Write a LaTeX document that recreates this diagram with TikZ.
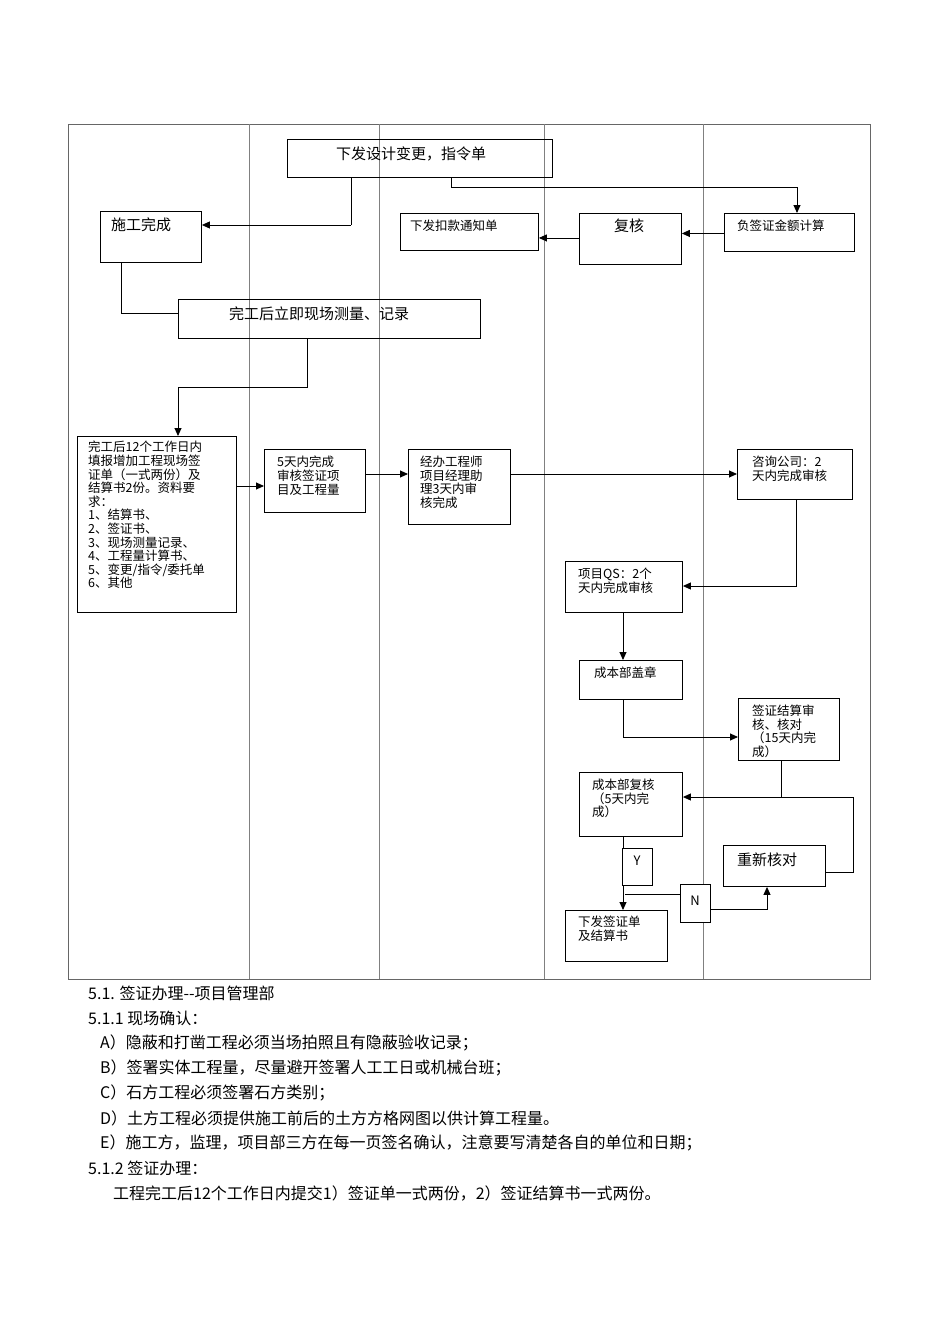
\documentclass[tikz,border=0pt]{standalone}
\usepackage{fontspec}
\setmainfont{Noto Sans CJK SC}
\usetikzlibrary{arrows.meta}
\tikzset{
 box/.style={draw,line width=0.9pt,anchor=north west,inner sep=0pt},
 lbl/.style={anchor=north west,align=left,inner sep=0pt,font=\fontsize{12.5}{13.6}\selectfont},
 big/.style={anchor=north west,align=left,inner sep=0pt,font=\fontsize{15}{17}\selectfont},
 txt/.style={anchor=west,inner sep=0pt,font=\fontsize{16}{18}\selectfont},
 arr/.style={-{Triangle[length=8pt,width=7pt]},line width=0.9pt},
 ln/.style={line width=0.9pt},
 lane/.style={draw=gray,line width=0.8pt}
}
\newcommand\bx[5]{\node[box,minimum width=#4pt-#2pt,minimum height=#5pt-#3pt] (#1) at (#2,#3) {};}
\begin{document}
\begin{tikzpicture}[x=1pt,y=-1pt]
\useasboundingbox (0,0) rectangle (950,1344);
\draw[line width=0.8pt,draw=gray!80!black] (68,124) rectangle (870,979);
\foreach \x in {249,379,544,703} \draw[lane] (\x,124) -- (\x,979);
% boxes
\bx{top}{287}{139}{552}{177}
\bx{sg}{100}{211}{201}{262}
\bx{kk}{400}{213}{538}{250}
\bx{fh}{579}{213}{681}{264}
\bx{fq}{724}{213}{854}{251}
\bx{cl}{178}{299}{480}{338}
\bx{bg}{77}{436}{236}{612}
\bx{wt}{264}{449}{365}{512}
\bx{jb}{408}{449}{510}{524}
\bx{zx}{737}{449}{852}{499}
\bx{qs}{565}{561}{682}{612}
\bx{gz}{579}{660}{682}{699}
\bx{js}{738}{698}{839}{760}
\bx{fhk}{579}{772}{682}{836}
\bx{cx}{723}{845}{825}{886}
\bx{xf}{565}{910}{667}{961}
% connectors
\draw[ln] (351,177) |- (351,225) coordinate (c1);
\draw[arr] (c1) -- (sg.east |- c1);
\draw[ln] (451,177) |- (797,187) coordinate (c2);
\draw[arr] (c2) -- (fq.north -| c2);
\draw[arr] (fq.west) ++(0,1) coordinate (c3) -- (fh.east |- c3);
\draw[arr] (fh.west) ++(0,-1) coordinate (c4) -- (kk.east |- c4);
\draw[ln] (121,262) |- (178,313) coordinate (c5);
\draw[ln] (307,338) |- (178,387) coordinate (c6);
\draw[arr] (c6) -- (bg.north -| c6);
\draw[arr] (236,486) coordinate (c7) -- (wt.west |- c7);
\draw[arr] (365,474) coordinate (c8) -- (jb.west |- c8);
\draw[arr] (510,474) coordinate (c9) -- (zx.west |- c9);
\draw[ln] (796,499) |- (720,586) coordinate (c10);
\draw[arr] (c10) -- (qs.east |- c10);
\draw[arr] (623,612) coordinate (c11) -- (gz.north -| c11);
\draw[ln] (623,699) |- (700,737) coordinate (c12);
\draw[arr] (c12) -- (js.west |- c12);
\draw[ln] (781,760) -- (781,797);
\draw[ln] (825,872) -| (853,797) coordinate (c13);
\draw[arr] (c13) -- (fhk.east |- c13);
\draw[arr] (623,836) coordinate (c14) -- (xf.north -| c14);
\node[box,fill=white,minimum width=30pt,minimum height=37pt] (yb) at (622,848) {};
\node[box,fill=white,minimum width=30pt,minimum height=38pt] (nb) at (680,884) {};
\draw[ln] (625,894) coordinate (c16) -- (nb.west |- c16);
\draw[ln] (710,909) -| (767,900) coordinate (c15);
\draw[arr] (c15) -- (cx.south -| c15);
\node[font=\fontsize{13}{14}\selectfont] (yt) at (637,861) {Y};
\node[font=\fontsize{13}{14}\selectfont] (nt) at (695,901) {N};
% labels
\node[big] (t1) at (336,147) {下发设计变更，指令单};
\node[big] (t2) at (111,218) {施工完成};
\node[lbl] (t3) at (410,220) {下发扣款通知单};
\node[big] (t4) at (614,219) {复核};
\node[lbl] (t5) at (737,220) {负签证金额计算};
\node[big] (t6) at (229,307) {完工后立即现场测量、记录};
\node[lbl] (t7) at (88,441) {完工后12个工作日内\\填报增加工程现场签\\证单（一式两份）及\\结算书2份。资料要\\求：\\1、结算书、\\2、签证书、\\3、现场测量记录、\\4、工程量计算书、\\5、变更/指令/委托单\\6、其他};
\node[lbl] (t8) at (277,456) {5天内完成\\审核签证项\\目及工程量};
\node[lbl] (t9) at (420,456) {经办工程师\\项目经理助\\理3天内审\\核完成};
\node[lbl] (t10) at (752,456) {咨询公司：2\\天内完成审核};
\node[lbl] (t11) at (578,568) {项目QS：2个\\天内完成审核};
\node[lbl] (t12) at (594,667) {成本部盖章};
\node[lbl] (t13) at (752,705) {签证结算审\\核、核对\\（15天内完\\成）};
\node[lbl] (t14) at (592,779) {成本部复核\\（5天内完\\成）};
\node[big] (t15) at (737,853) {重新核对};
\node[lbl] (t16) at (578,916) {下发签证单\\及结算书};
% text below
\node[txt] (p1) at (88,993) {5.1. 签证办理{-}{-}项目管理部};
\node[txt] (p2) at (88,1018) {5.1.1 现场确认：};
\node[txt] (p3) at (100,1043) {A）隐蔽和打凿工程必须当场拍照且有隐蔽验收记录；};
\node[txt] (p4) at (100,1068) {B）签署实体工程量，尽量避开签署人工工日或机械台班；};
\node[txt] (p5) at (100,1093) {C）石方工程必须签署石方类别；};
\node[txt] (p6) at (100,1118) {D）土方工程必须提供施工前后的土方方格网图以供计算工程量。};
\node[txt] (p7) at (100,1143) {E）施工方，监理，项目部三方在每一页签名确认，注意要写清楚各自的单位和日期；};
\node[txt] (p8) at (88,1168) {5.1.2 签证办理：};
\node[txt] (p9) at (113,1193) {工程完工后12个工作日内提交1）签证单一式两份，2）签证结算书一式两份。};
\end{tikzpicture}
\end{document}
